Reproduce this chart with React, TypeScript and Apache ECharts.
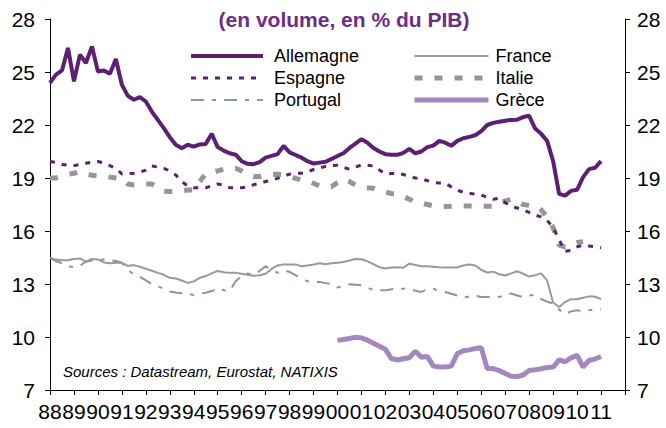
import React, { useEffect, useRef } from 'react';
import * as echarts from 'echarts';

const yearLabels = ['88','89','90','91','92','93','94','95','96','97','98','99','00','01','02','03','04','05','06','07','08','09','10','11'];
const yTicks = [7, 10, 13, 16, 19, 22, 25, 28];

// quarterly values, index 0 = 1988 Q1
const allemagne = [24.38,24.85,25.09,26.36,24.47,25.98,25.51,26.45,25.03,25.09,24.9,25.74,24.28,23.65,23.43,23.58,23.33,22.76,22.29,21.82,21.31,20.88,20.69,20.88,20.78,20.9,20.93,21.5,20.75,20.55,20.4,20.32,19.95,19.8,19.78,19.9,20.15,20.25,20.35,20.82,20.45,20.3,20.15,19.95,19.82,19.87,19.92,20.08,20.25,20.4,20.7,20.95,21.2,21.0,20.7,20.5,20.35,20.31,20.31,20.42,20.65,20.4,20.5,20.75,20.83,21.1,21.0,20.82,21.1,21.25,21.33,21.42,21.65,22.0,22.12,22.18,22.24,22.29,22.3,22.45,22.52,21.8,21.5,21.1,19.95,18.1,18.0,18.27,18.33,19.05,19.5,19.58,19.95];
const france = [14.48,14.38,14.35,14.35,14.42,14.45,14.26,14.42,14.39,14.22,14.18,14.2,14.2,14.02,14.07,13.98,13.86,13.75,13.63,13.52,13.35,13.31,13.2,13.06,13.15,13.35,13.45,13.6,13.74,13.67,13.63,13.63,13.58,13.52,13.47,13.5,13.58,13.85,14.05,14.11,14.11,14.11,14.0,14.05,14.1,14.18,14.12,14.18,14.2,14.25,14.33,14.42,14.4,14.28,14.12,13.95,13.88,13.93,13.95,13.92,14.15,14.08,14.01,14.01,13.98,13.95,13.94,13.94,13.94,14.05,14.1,14.05,13.8,13.65,13.7,13.55,13.48,13.6,13.72,13.58,13.42,13.5,13.6,13.2,11.95,11.7,11.98,12.14,12.14,12.22,12.3,12.28,12.15];
const espagne = [19.93,19.88,19.76,19.72,19.7,19.76,19.83,19.9,19.93,19.85,19.7,19.55,19.23,19.24,19.27,19.33,19.45,19.68,19.62,19.55,19.4,19.17,18.8,18.55,18.45,18.45,18.45,18.55,18.66,18.6,18.45,18.45,18.45,18.5,18.62,18.7,18.8,18.88,18.98,19.1,19.22,19.27,19.27,19.35,19.48,19.58,19.65,19.7,19.72,19.6,19.5,19.62,19.74,19.72,19.68,19.45,19.23,19.25,19.27,19.2,19.1,19.0,18.95,18.85,18.75,18.72,18.7,18.5,18.3,18.2,18.14,18.08,18.04,17.9,17.8,17.85,17.6,17.4,17.3,17.2,17.05,16.9,16.8,16.6,16.2,15.5,14.85,14.9,15.1,15.2,15.15,15.1,15.05];
const italie = [19.0,19.0,19.1,19.2,19.27,19.36,19.25,19.15,19.12,19.12,19.05,19.0,18.95,18.66,18.6,18.62,18.66,18.66,18.45,18.25,18.23,18.23,18.28,18.32,18.32,18.8,19.25,19.32,19.4,19.5,19.55,19.55,19.4,19.2,19.08,19.08,19.15,19.2,19.21,19.2,19.1,18.98,18.89,18.86,18.7,18.55,18.5,18.51,18.75,18.95,18.8,18.6,18.5,18.45,18.42,18.3,18.2,18.12,18.1,17.95,17.8,17.62,17.57,17.5,17.42,17.38,17.38,17.4,17.42,17.42,17.42,17.42,17.42,17.4,17.4,17.55,17.7,17.8,17.7,17.5,17.45,17.43,17.2,16.8,16.2,15.2,15.1,15.2,15.35,15.4];
const portugal = [14.48,14.3,14.17,14.0,13.95,14.05,14.26,14.33,14.37,14.39,14.35,14.3,14.2,13.8,13.55,13.4,13.2,13.0,12.88,12.72,12.58,12.52,12.48,12.45,12.38,12.45,12.5,12.6,12.75,12.65,12.6,13.15,13.45,13.6,13.5,13.75,14.0,13.8,13.63,13.78,13.68,13.5,13.35,13.15,13.12,13.12,13.05,12.99,12.8,12.9,12.99,12.96,12.93,12.8,12.65,12.64,12.64,12.7,12.75,12.73,12.71,12.62,12.55,12.7,12.73,12.6,12.55,12.45,12.35,12.25,12.28,12.33,12.27,12.27,12.27,12.27,12.35,12.46,12.35,12.25,12.35,12.38,12.15,12.0,11.9,11.55,11.3,11.45,11.52,11.45,11.52,11.55,11.56];
const greceStart = 48; // 2000 Q1
const grece = [9.81,9.86,9.92,9.98,9.95,9.82,9.65,9.48,9.3,8.78,8.7,8.77,8.83,9.2,8.85,8.9,8.35,8.3,8.3,8.35,9.05,9.22,9.27,9.35,9.4,8.21,8.21,8.1,7.93,7.78,7.76,7.85,8.11,8.14,8.2,8.27,8.3,8.7,8.6,8.82,8.97,8.3,8.68,8.75,8.9];

const FONT = 'Arial, "Liberation Sans", sans-serif';

const pairs = (arr: number[], start = 0) => arr.map((v, k) => [start + k, v]);

const styles: Record<string, { color: string; width: number; type?: any }> = {
  'Allemagne': { color: '#5c1f74', width: 4 },
  'Espagne': { color: '#5c1f74', width: 3, type: [5, 7] },
  'Portugal': { color: '#7f9aa7', width: 2, type: [13, 8, 4, 8] },
  'France': { color: '#999999', width: 2 },
  'Italie': { color: '#969696', width: 5, type: [8, 12] },
  'Grèce': { color: '#a587c0', width: 5 },
};

export default function App() {
  const ref = useRef<HTMLDivElement>(null);
  useEffect(() => {
    document.body.style.margin = '0';
    const chart = echarts.init(ref.current!, null, { renderer: 'svg' });
    const labelPos = yearLabels.map((_, k) => k * 4);
    const tickPos = labelPos.concat([yearLabels.length * 4]);
    const yAxisBase = {
      type: 'value',
      min: 7,
      max: 28,
      splitLine: { show: false },
      axisLine: { show: true, lineStyle: { color: '#000', width: 1 } },
      axisTick: { show: true, inside: false, length: 5, lineStyle: { color: '#000' }, customValues: yTicks },
    };
    const legendText = { fontSize: 18, lineHeight: 20, color: '#000', fontFamily: FONT };
    const legendItem = (name: string) => ({
      name,
      lineStyle: { width: styles[name].width, type: styles[name].type ?? 'solid', color: styles[name].color },
    });
    const line = (name: string, data: number[][]) => ({
      name, type: 'line', symbol: 'none', data,
      lineStyle: { color: styles[name].color, width: styles[name].width, type: styles[name].type ?? 'solid' },
      itemStyle: { color: styles[name].color },
    });
    chart.setOption({
      animation: false,
      grid: { left: 50, right: 41, top: 19, bottom: 38 },
      xAxis: {
        type: 'value',
        min: 0,
        max: yearLabels.length * 4,
        splitLine: { show: false },
        axisLine: { show: true, lineStyle: { color: '#000', width: 1 } },
        axisTick: { show: true, length: 5, lineStyle: { color: '#000' }, customValues: tickPos },
        axisLabel: {
          customValues: labelPos,
          formatter: (v: number) => yearLabels[Math.round(v / 4)] ?? '',
          fontSize: 21,
          color: '#000',
          fontFamily: FONT,
          margin: 11,
        },
      },
      yAxis: [
        { ...yAxisBase, position: 'left', axisLabel: { customValues: yTicks, fontSize: 21, color: '#000', fontFamily: FONT, margin: 15 } },
        { ...yAxisBase, position: 'right', axisLabel: { customValues: yTicks, fontSize: 21, color: '#000', fontFamily: FONT, margin: 12 } },
      ],
      legend: [
        {
          data: ['Allemagne', 'Espagne', 'Portugal'].map(legendItem),
          orient: 'vertical', left: 184, top: 41, itemWidth: 72, itemHeight: 14, itemGap: 2,
          itemStyle: { opacity: 0 },
          textStyle: { ...legendText, padding: [0, 0, 0, 6] },
          selectedMode: false,
        },
        {
          data: ['France', 'Italie', 'Grèce'].map(legendItem),
          orient: 'vertical', left: 407, top: 41, itemWidth: 74, itemHeight: 14, itemGap: 2,
          itemStyle: { opacity: 0 },
          textStyle: { ...legendText, padding: [0, 0, 0, 2] },
          selectedMode: false,
        },
      ],
      graphic: [
        {
          type: 'text', x: 344, y: 19,
          style: { text: '(en volume, en % du PIB)', fontSize: 21, fontWeight: 'bold', fontFamily: FONT, fill: '#6b2c8a', align: 'center', verticalAlign: 'middle' },
        },
        {
          type: 'text', x: 63, y: 371,
          style: { text: 'Sources : Datastream, Eurostat, NATIXIS', fontSize: 15, fontStyle: 'italic', fontFamily: FONT, fill: '#000', align: 'left', verticalAlign: 'middle' },
        },
      ],
      series: [
        line('Grèce', pairs(grece, greceStart)),
        line('Portugal', pairs(portugal)),
        line('France', pairs(france)),
        line('Italie', pairs(italie)),
        line('Espagne', pairs(espagne)),
        line('Allemagne', pairs(allemagne)),
      ],
    });
    return () => chart.dispose();
  }, []);
  return <div ref={ref} style={{ width: 666, height: 428 }} />;
}
